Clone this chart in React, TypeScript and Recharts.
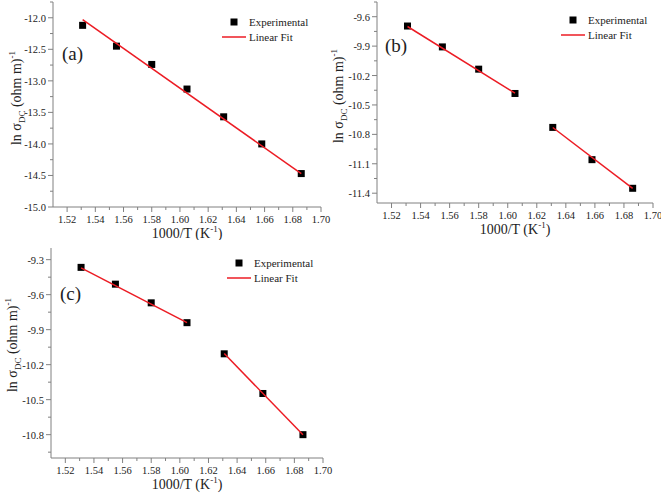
import React from "react";
import { ComposedChart, Customized, Label, Legend, Scatter, XAxis, YAxis } from "recharts";

// 1000/T (K^-1), same temperatures in all three panels
const INV_T = [1.531, 1.555, 1.58, 1.605, 1.631, 1.658, 1.686];

// ln sigma_DC
const LN_SIGMA_A = [-12.12, -12.45, -12.74, -13.13, -13.57, -14.0, -14.47];
const LN_SIGMA_B = [-9.695, -9.908, -10.135, -10.383, -10.729, -11.058, -11.35];
const LN_SIGMA_C = [-9.366, -9.51, -9.67, -9.84, -10.107, -10.447, -10.8];

// linear fit segments (end points)
const FIT_A_X = [1.531, 1.686];
const FIT_A_Y = [-12.03, -14.47];
const FIT_B1_X = [1.531, 1.605];
const FIT_B1_Y = [-9.7, -10.38];
const FIT_B2_X = [1.631, 1.686];
const FIT_B2_Y = [-10.73, -11.35];
const FIT_C1_X = [1.531, 1.605];
const FIT_C1_Y = [-9.37, -9.84];
const FIT_C2_X = [1.631, 1.686];
const FIT_C2_Y = [-10.105, -10.8];

// ticks
const X_MAJOR = [1.52, 1.54, 1.56, 1.58, 1.6, 1.62, 1.64, 1.66, 1.68, 1.7];
const X_MINOR = [1.53, 1.55, 1.57, 1.59, 1.61, 1.63, 1.65, 1.67, 1.69];
const A_Y_MAJOR = [-15.0, -14.5, -14.0, -13.5, -13.0, -12.5, -12.0];
const A_Y_MINOR = [-14.75, -14.25, -13.75, -13.25, -12.75, -12.25, -11.75];
const B_Y_MAJOR = [-11.4, -11.1, -10.8, -10.5, -10.2, -9.9, -9.6];
const B_Y_MINOR = [-11.25, -10.95, -10.65, -10.35, -10.05, -9.75, -9.45];
const C_Y_MAJOR = [-10.8, -10.5, -10.2, -9.9, -9.6, -9.3];
const C_Y_MINOR = [-10.95, -10.65, -10.35, -10.05, -9.75, -9.45];

const SERIF = '"Liberation Serif", "Times New Roman", serif';
const AXIS = "#808080";
const INK = "#222";
const RED = "#ec1c24";

const pts = (xs: number[], ys: number[]) => xs.map((x, i) => ({ x, y: ys[i] }));
const has = (arr: number[], v: number) => arr.some((m) => Math.abs(m - v) < 1e-6);

const Square = (p: any) => <rect x={p.cx - 3.5} y={p.cy - 3.5} width={7} height={7} fill="#000" />;
const NoDot = () => <g />;

function xTick(p: any) {
  const v = p.payload.value;
  const major = has(X_MAJOR, v);
  return (
    <g>
      <line x1={p.x} x2={p.x} y1={p.y} y2={p.y + (major ? 5 : 3)} stroke={AXIS} />
      {major && (
        <text x={p.x} y={p.y + 15.5} textAnchor="middle" fontSize={10.5} fontFamily={SERIF} fill={INK}>
          {v.toFixed(2)}
        </text>
      )}
    </g>
  );
}

const yTick = (majors: number[]) => (p: any) => {
  const v = p.payload.value;
  const major = has(majors, v);
  return (
    <g>
      <line x1={p.x - (major ? 5 : 3)} x2={p.x} y1={p.y} y2={p.y} stroke={AXIS} />
      {major && (
        <text x={p.x - 7} y={p.y + 4} textAnchor="end" fontSize={10.5} fontFamily={SERIF} fill={INK}>
          {v.toFixed(1)}
        </text>
      )}
    </g>
  );
};

function LegendBox({ sx, sy, lx1, lx2, ly, tx }: any) {
  return (
    <svg width={110} height={36} style={{ display: "block" }}>
      <rect x={sx - 3.5} y={sy - 3.5} width={7} height={7} fill="#000" />
      <text x={tx} y={sy + 4} fontSize={11} fontFamily={SERIF} fill={INK}>Experimental</text>
      <line x1={lx1} x2={lx2} y1={ly} y2={ly} stroke={RED} strokeWidth={1.5} />
      <text x={tx} y={ly + 4} fontSize={11} fontFamily={SERIF} fill={INK}>Linear Fit</text>
    </svg>
  );
}

type PanelProps = {
  left: number; top: number; width: number; height: number;
  margin: { top: number; right: number; bottom: number; left: number };
  yWidth: number; xHeight: number;
  yDomain: [number, number]; yMajor: number[]; yMinor: number[];
  ys: number[]; fits: { x: number; y: number }[][];
  tag: string; tagX: number; tagY: number;
  legendLeft: number; legendTop: number;
  yTitleX: number; yTitleY: number;
};

function Panel(p: PanelProps) {
  const yTicks = [...p.yMajor, ...p.yMinor].sort((a, b) => a - b);
  const xTicks = [...X_MAJOR, ...X_MINOR].sort((a, b) => a - b);
  const data = pts(INV_T, p.ys);
  return (
    <div style={{ position: "absolute", left: p.left, top: p.top }}>
      <ComposedChart width={p.width} height={p.height} margin={p.margin}>
        <XAxis
          type="number" dataKey="x" domain={[1.51, 1.7]} ticks={xTicks} interval={0}
          allowDataOverflow height={p.xHeight} tickSize={0} tickMargin={0} tickLine={false}
          axisLine={{ stroke: AXIS }} tick={xTick}
        >
          <Label
            content={({ viewBox }: any) => (
              <text
                x={viewBox.x + viewBox.width / 2} y={viewBox.y + 31} textAnchor="middle"
                fontSize={14} fontFamily={SERIF} fill={INK}
              >
                1000/T (K<tspan dy={-6} fontSize={9}>-1</tspan><tspan dy={6}>)</tspan>
              </text>
            )}
          />
        </XAxis>
        <XAxis xAxisId="top" orientation="top" type="number" domain={[1.51, 1.7]} height={0} tick={false} tickLine={false} axisLine={{ stroke: AXIS }} />
        <YAxis
          type="number" dataKey="y" domain={p.yDomain} ticks={yTicks} interval={0}
          allowDataOverflow width={p.yWidth} tickSize={0} tickMargin={0} tickLine={false}
          axisLine={{ stroke: AXIS }} tick={yTick(p.yMajor)}
        >
          <Label
            content={() => (
              <text
                x={p.yTitleX} y={p.yTitleY} textAnchor="middle" fontSize={14} fontFamily={SERIF} fill={INK}
                transform={`rotate(-90 ${p.yTitleX} ${p.yTitleY})`}
              >
                ln σ<tspan dy={4} fontSize={9}>DC</tspan>
                <tspan dy={-4}> (ohm m)</tspan>
                <tspan dy={-6} fontSize={9}>-1</tspan>
              </text>
            )}
          />
        </YAxis>
        <YAxis yAxisId="right" orientation="right" width={0} tick={false} tickLine={false} axisLine={{ stroke: AXIS }} />
        <Scatter name="Experimental" data={data} shape={Square} isAnimationActive={false} />
        {p.fits.map((seg, i) => (
          <Scatter
            key={i} name="Linear Fit" data={seg} shape={NoDot} fill={RED}
            line={{ stroke: RED, strokeWidth: 1.5 }} isAnimationActive={false}
          />
        ))}
        <Customized
          component={() => (
            <text x={p.tagX} y={p.tagY} fontSize={19} fontFamily={SERIF} fill={INK}>
              {p.tag}
            </text>
          )}
        />
        <Legend
          layout="horizontal" verticalAlign="middle"
          wrapperStyle={{ left: p.legendLeft, top: p.legendTop, width: 110, height: 36 }}
          content={() => <LegendBox sx={16} sy={10} lx1={4} lx2={28} ly={25} tx={31} />}
        />
      </ComposedChart>
    </div>
  );
}

export default function App() {
  return (
    <div style={{ position: "absolute", left: 0, top: 0, width: 661, height: 495, background: "#fff", overflow: "hidden" }}>
      <Panel
        left={0} top={0} width={342} height={240}
        margin={{ top: 2, right: 21, bottom: 0, left: 0 }} yWidth={53} xHeight={33}
        yDomain={[-15, -11.75]} yMajor={A_Y_MAJOR} yMinor={A_Y_MINOR} ys={LN_SIGMA_A}
        fits={[pts(FIT_A_X, FIT_A_Y)]}
        tag="(a)" tagX={62} tagY={60} legendLeft={218} legendTop={12}
        yTitleX={21} yTitleY={98}
      />
      <Panel
        left={330} top={0} width={331} height={240}
        margin={{ top: 2, right: 8, bottom: 0, left: 0 }} yWidth={47} xHeight={37}
        yDomain={[-11.5, -9.45]} yMajor={B_Y_MAJOR} yMinor={B_Y_MINOR} ys={LN_SIGMA_B}
        fits={[pts(FIT_B1_X, FIT_B1_Y), pts(FIT_B2_X, FIT_B2_Y)]}
        tag="(b)" tagX={55} tagY={52} legendLeft={227} legendTop={10}
        yTitleX={13} yTitleY={96}
      />
      <Panel
        left={0} top={240} width={342} height={255}
        margin={{ top: 8, right: 19, bottom: 0, left: 0 }} yWidth={51} xHeight={37}
        yDomain={[-11.0, -9.2]} yMajor={C_Y_MAJOR} yMinor={C_Y_MINOR} ys={LN_SIGMA_C}
        fits={[pts(FIT_C1_X, FIT_C1_Y), pts(FIT_C2_X, FIT_C2_Y)]}
        tag="(c)" tagX={60} tagY={60} legendLeft={223} legendTop={13}
        yTitleX={17} yTitleY={105}
      />
    </div>
  );
}
